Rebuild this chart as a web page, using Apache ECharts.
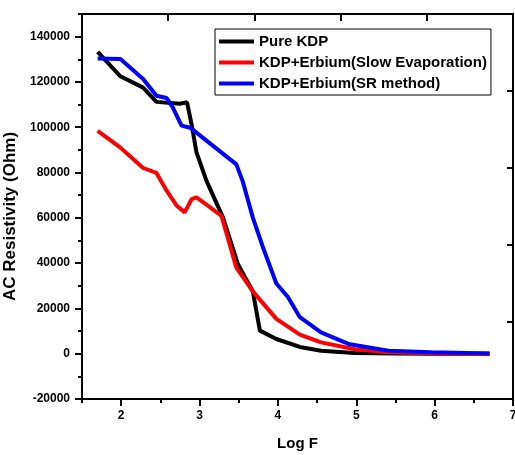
<!DOCTYPE html>
<html>
<head>
<meta charset="utf-8">
<script src="https://cdn.jsdelivr.net/npm/echarts@6/dist/echarts.min.js"></script>
<style>
html,body{margin:0;padding:0;background:#fff;}
#chart{width:515px;height:455px;}
</style>
</head>
<body>
<div id="chart"></div>
<script>
// ---- data ----
const seriesNames = ['Pure KDP', 'KDP+Erbium(Slow Evaporation)', 'KDP+Erbium(SR method)'];

const pureLogF = [1.70, 1.99, 2.28, 2.45, 2.75, 2.84, 2.90, 2.96, 3.09, 3.30, 3.49, 3.68, 3.77, 3.98, 4.28, 4.55, 4.98, 5.5, 6.0, 6.7];
const pureRes  = [133300, 122500, 117500, 111200, 110400, 111000, 101000, 89000, 76200, 60100, 39500, 27500, 10200, 6500, 3000, 1300, 300, 100, 0, 0];

const slowLogF = [1.70, 1.99, 2.28, 2.45, 2.58, 2.71, 2.81, 2.90, 2.96, 3.11, 3.28, 3.47, 3.68, 3.98, 4.28, 4.55, 4.98, 5.4, 6.0, 6.7];
const slowRes  = [98400, 91000, 82000, 79800, 72000, 65300, 62400, 68300, 69000, 65300, 60800, 38000, 27500, 15400, 8400, 5000, 2000, 600, 100, 0];

const srLogF = [1.70, 1.99, 2.28, 2.45, 2.58, 2.66, 2.77, 2.88, 3.47, 3.55, 3.68, 3.81, 3.98, 4.13, 4.28, 4.55, 4.90, 5.41, 5.96, 6.70];
const srRes  = [130400, 130100, 121300, 113900, 112900, 108700, 100700, 99800, 83600, 76200, 60100, 46900, 31000, 24900, 16100, 9400, 4300, 1300, 600, 100];

const xMajorTicks = [2, 3, 4, 5, 6, 7];
const xMinorTicks = [1.5, 2.5, 3.5, 4.5, 5.5, 6.5];
const yMajorTicks = [-20000, 0, 20000, 40000, 60000, 80000, 100000, 120000, 140000];
const yMinorTicks = [-10000, 10000, 30000, 50000, 70000, 90000, 110000, 130000, 150000];

const colors = ['#000000', '#ff0000', '#0000ff'];

function zip(xs, ys) { return xs.map((x, i) => [x, ys[i]]); }

const FONT = '"Liberation Sans", Arial, sans-serif';
const mkLine = () => ({ show: true, onZero: false, lineStyle: { color: '#000', width: 2 } });
const noLine = () => ({ show: false, onZero: false });
const gridBox = () => ({ left: 82, right: 2, top: 14, bottom: 56, containLabel: false, outerBoundsMode: 'none' });

const chart = echarts.init(document.getElementById('chart'), null, { renderer: 'canvas' });
chart.setOption({
  animation: false,
  backgroundColor: '#fff',
  textStyle: { fontFamily: FONT },
  grid: [gridBox(), gridBox()],
  legend: {
    orient: 'vertical',
    left: 215,
    top: 29,
    padding: [5, 4, 4, 4],
    itemGap: 6,
    itemWidth: 35,
    itemHeight: 4,
    icon: 'rect',
    borderColor: '#000',
    borderWidth: 1,
    selectedMode: false,
    textStyle: { fontFamily: FONT, fontSize: 15, fontWeight: 'bold', color: '#000' },
    data: seriesNames
  },
  xAxis: [
    {
      type: 'value', gridIndex: 0, position: 'bottom', min: 1.5, max: 7,
      axisLine: mkLine(),
      axisTick: { show: true, customValues: xMajorTicks, length: 7, lineStyle: { color: '#000', width: 2 } },
      axisLabel: { customValues: xMajorTicks, formatter: v => String(v), color: '#000', fontSize: 12, fontWeight: 'bold', fontFamily: FONT, margin: 11 },
      splitLine: { show: false },
      name: 'Log F', nameLocation: 'middle', nameGap: 37,
      nameTextStyle: { color: '#000', fontSize: 15, fontWeight: 'bold', fontFamily: FONT }
    },
    {
      type: 'value', gridIndex: 0, position: 'top', min: 0, max: 5, interval: 1,
      axisLine: mkLine(),
      axisTick: { show: true, inside: true, length: 7, lineStyle: { color: '#000', width: 2 } },
      axisLabel: { show: true, formatter: () => '' },
      splitLine: { show: false }
    },
    {
      type: 'value', gridIndex: 1, position: 'bottom', min: 1.5, max: 7,
      axisLine: noLine(),
      axisTick: { show: true, customValues: xMinorTicks, length: 4, lineStyle: { color: '#000', width: 2 } },
      axisLabel: { show: false },
      splitLine: { show: false }
    }
  ],
  yAxis: [
    {
      type: 'value', gridIndex: 0, position: 'left', min: -20000, max: 150000,
      axisLine: mkLine(),
      axisTick: { show: true, customValues: yMajorTicks, length: 7, lineStyle: { color: '#000', width: 2 } },
      axisLabel: { customValues: yMajorTicks, formatter: v => String(v), color: '#000', fontSize: 12, fontWeight: 'bold', fontFamily: FONT, margin: 12 },
      splitLine: { show: false },
      name: 'AC Resistivity (Ohm)', nameLocation: 'middle', nameGap: 62, nameRotate: 90,
      nameTextStyle: { color: '#000', fontSize: 17, fontWeight: 'bold', fontFamily: FONT, padding: [0, 20, 0, 0] }
    },
    {
      type: 'value', gridIndex: 0, position: 'right', min: 0, max: 5, interval: 1,
      axisLine: mkLine(),
      axisTick: { show: true, inside: true, length: 6, lineStyle: { color: '#000', width: 2 } },
      axisLabel: { show: true, formatter: () => '' },
      splitLine: { show: false }
    },
    {
      type: 'value', gridIndex: 1, position: 'left', min: -20000, max: 150000,
      axisLine: noLine(),
      axisTick: { show: true, customValues: yMinorTicks, length: 4, lineStyle: { color: '#000', width: 2 } },
      axisLabel: { show: false },
      splitLine: { show: false }
    }
  ],
  series: [
    { name: seriesNames[0], type: 'line', xAxisIndex: 0, yAxisIndex: 0, data: zip(pureLogF, pureRes), showSymbol: false, symbol: 'none', color: colors[0], lineStyle: { width: 4, color: colors[0] }, z: 3 },
    { name: seriesNames[1], type: 'line', xAxisIndex: 0, yAxisIndex: 0, data: zip(slowLogF, slowRes), showSymbol: false, symbol: 'none', color: colors[1], lineStyle: { width: 4, color: colors[1] }, z: 4 },
    { name: seriesNames[2], type: 'line', xAxisIndex: 0, yAxisIndex: 0, data: zip(srLogF, srRes), showSymbol: false, symbol: 'none', color: colors[2], lineStyle: { width: 4, color: colors[2] }, z: 5 }
  ]
});
</script>
</body>
</html>
